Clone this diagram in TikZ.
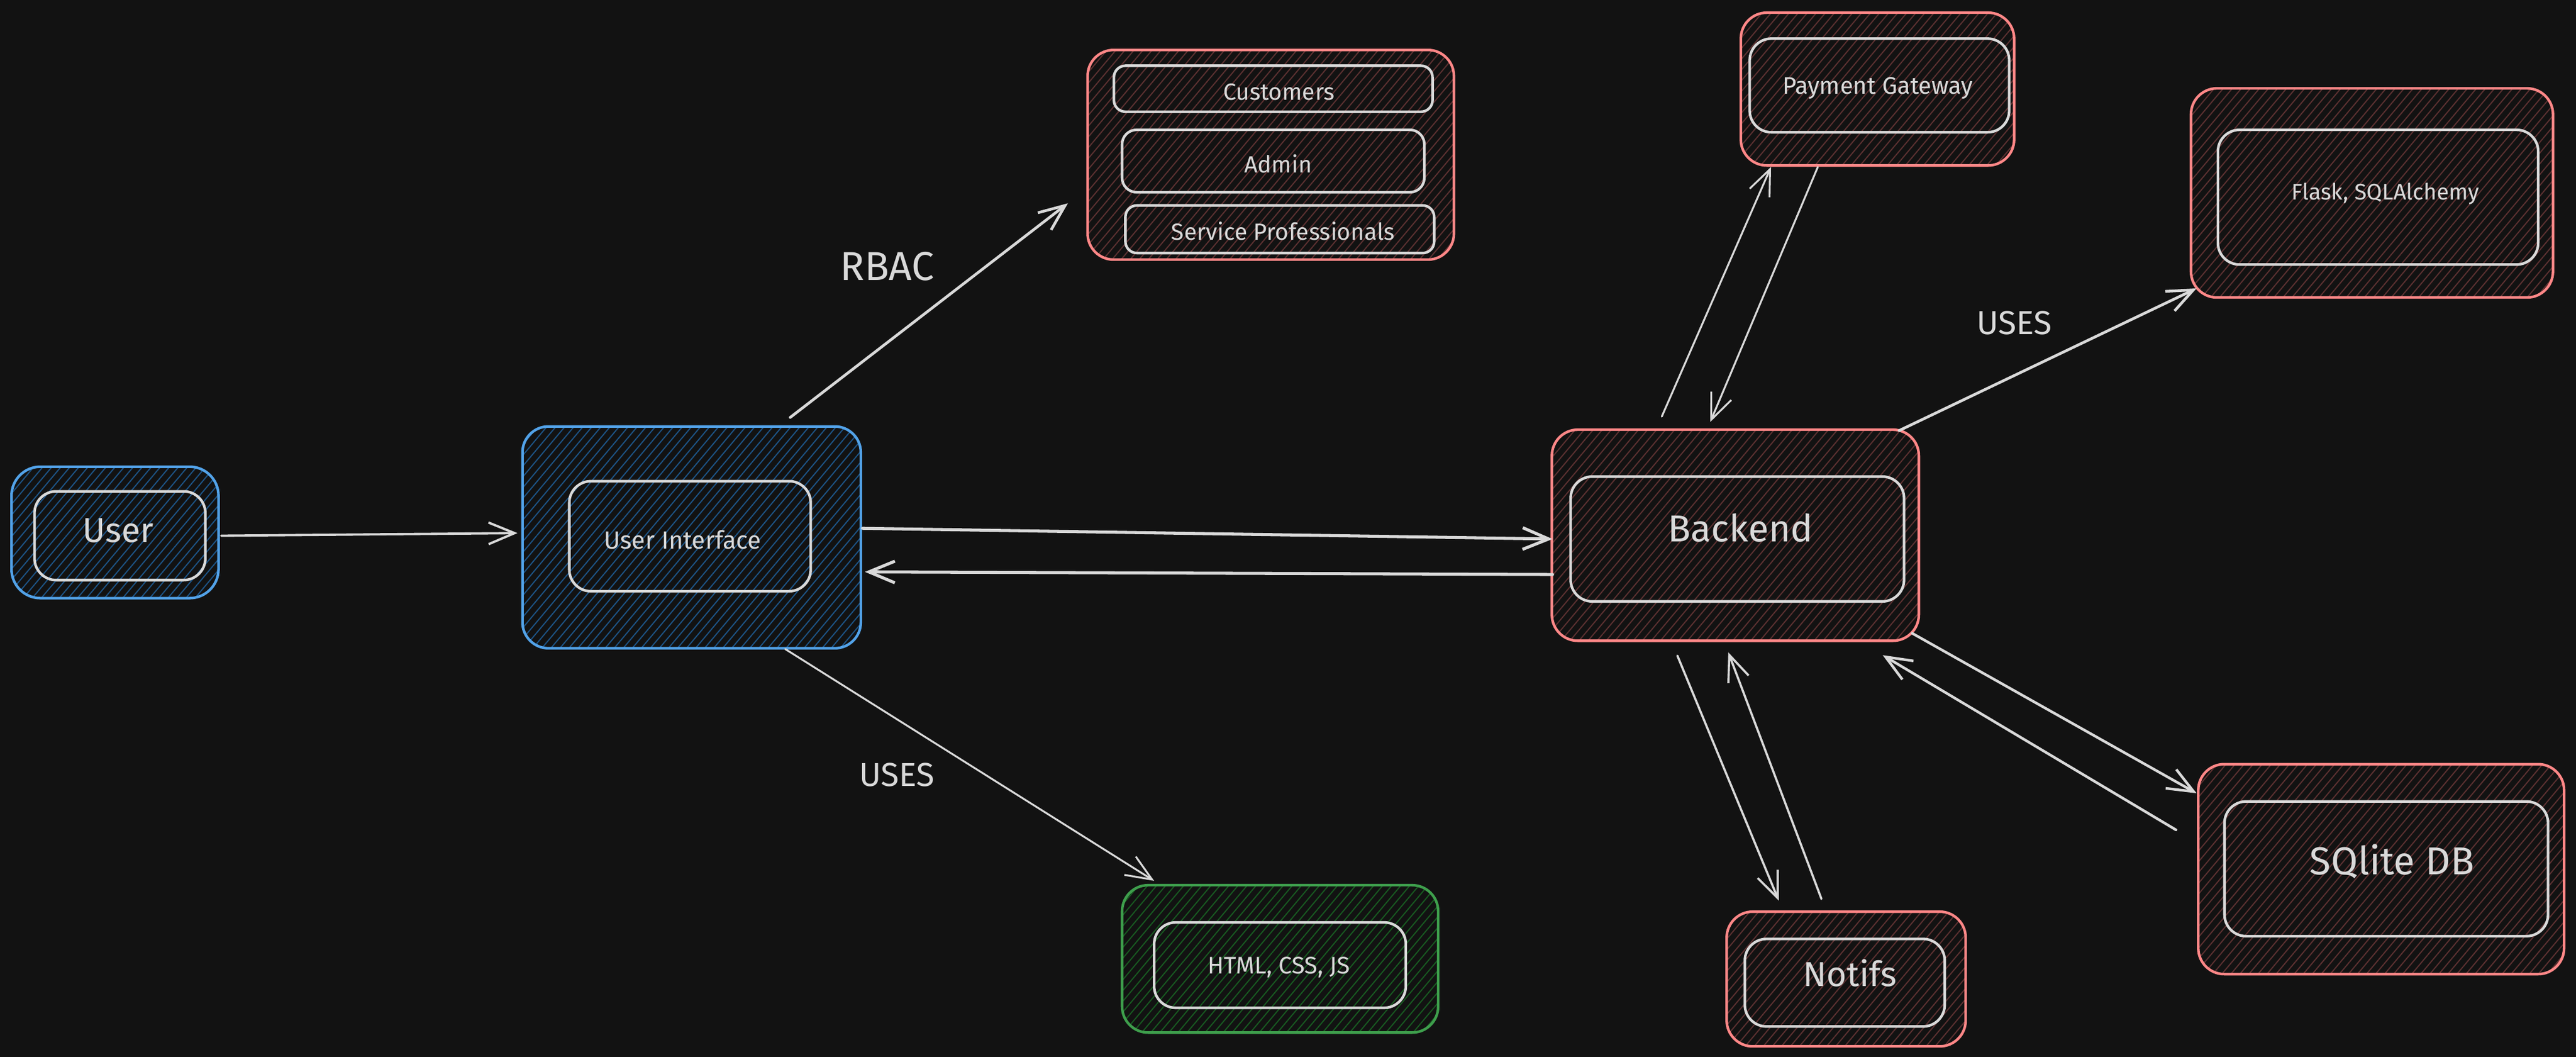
\documentclass[tikz,border=0pt]{standalone}
\usepackage{fontspec}
\setmainfont{Fira Sans}
\usetikzlibrary{arrows.meta,patterns.meta,calc}
\definecolor{bg}{HTML}{121212}
\definecolor{wht}{HTML}{D9D9D9}
\definecolor{redst}{HTML}{FF8787}
\definecolor{redh}{HTML}{5C3131}
\definecolor{bluest}{HTML}{52A2E8}
\definecolor{blueh}{HTML}{1D5486}
\definecolor{greenst}{HTML}{3E9E4C}
\definecolor{greenh}{HTML}{185A21}
\tikzset{
  obox/.style={draw, rounded corners=9pt, line width=0.9pt, inner sep=0pt, outer sep=0pt},
  redbox/.style={obox, draw=redst, pattern={Lines[angle=50,distance=2.4pt,line width=0.4pt]}, pattern color=redh},
  bluebox/.style={obox, draw=bluest, pattern={Lines[angle=50,distance=2.4pt,line width=0.4pt]}, pattern color=blueh},
  greenbox/.style={obox, draw=greenst, pattern={Lines[angle=50,distance=2.4pt,line width=0.4pt]}, pattern color=greenh},
  inbox/.style={draw=wht, line width=0.9pt, rounded corners=7.5pt, inner sep=0pt, outer sep=0pt},
  lbl/.style={text=wht, inner sep=0pt, text height=0.69em, text depth=0pt},
  conn/.style={draw=wht, line width=0.95pt, line cap=round, -{Straight Barb[length=9pt,width=7.5pt]}},
  connthin/.style={conn, line width=0.65pt},
}
\newcommand{\fsz}[1]{\fontsize{#1}{1.2\dimexpr#1pt\relax}\selectfont}
\begin{document}
\begin{tikzpicture}[x=0.02cm,y=-0.02cm]
\fill[bg] (0,0) rectangle (1568,643.2);
\useasboundingbox (0,0) rectangle (1568,643.2);

% User
\node[bluebox, rounded corners=10pt, minimum width=2.52cm, minimum height=1.6cm] (user) at (70,324) {};
\node[inbox, minimum width=2.08cm, minimum height=1.08cm] (userin) at (73,326) {};
\node[lbl, font=\fsz{12}] (tuser) at (72,324) {User};

% User Interface
\node[bluebox, minimum width=4.12cm, minimum height=2.7cm] (ui) at (421,327) {};
\node[inbox, minimum width=2.94cm, minimum height=1.34cm] (uiin) at (420,326.3) {};
\node[lbl, font=\fsz{8.6}] (tui) at (415.5,328) {User Interface};

% Roles
\node[redbox, minimum width=4.46cm, minimum height=2.552cm] (roles) at (773.5,94.2) {};
\node[inbox, rounded corners=4pt, minimum width=3.88cm, minimum height=0.56cm] (cust) at (775,54) {};
\node[inbox, rounded corners=5pt, minimum width=3.68cm, minimum height=0.76cm] (admin) at (775,98) {};
\node[inbox, rounded corners=4pt, minimum width=3.76cm, minimum height=0.58cm] (serv) at (779,139.5) {};
\node[lbl, font=\fsz{8.1}] (tcust) at (778.5,55) {Customers};
\node[lbl, font=\fsz{8.1}] (tadmin) at (778,99) {Admin};
\node[lbl, font=\fsz{8.1}] (tserv) at (781,140) {Service Professionals};

% HTML
\node[greenbox, minimum width=3.848cm, minimum height=1.794cm] (html) at (779.2,583.5) {};
\node[inbox, minimum width=3.064cm, minimum height=1.04cm] (htmlin) at (779.1,587.3) {};
\node[lbl, font=\fsz{8.3}] (thtml) at (778.5,586.5) {HTML, CSS, JS};

% Backend
\node[redbox, minimum width=4.468cm, minimum height=2.57cm] (backend) at (1056.3,325.7) {};
\node[inbox, minimum width=4.06cm, minimum height=1.52cm] (backin) at (1057.5,328) {};
\node[lbl, font=\fsz{13}] (tback) at (1059.5,323.5) {Backend};

% Payment Gateway
\node[redbox, minimum width=3.328cm, minimum height=1.86cm] (pay) at (1142.8,54.2) {};
\node[inbox, minimum width=3.16cm, minimum height=1.14cm] (payin) at (1144,52) {};
\node[lbl, font=\fsz{8.3}] (tpay) at (1143,51) {Payment Gateway};

% Flask
\node[redbox, minimum width=4.408cm, minimum height=2.546cm] (flask) at (1443.8,117.4) {};
\node[inbox, minimum width=3.9cm, minimum height=1.64cm] (flaskin) at (1447.5,120) {};
\node[lbl, font=\fsz{7.8}] (tflask) at (1452,115.5) {Flask, SQLAlchemy};

% Notifs
\node[redbox, minimum width=2.91cm, minimum height=1.64cm] (notifs) at (1123.75,595.75) {};
\node[inbox, minimum width=2.434cm, minimum height=1.066cm] (notifsin) at (1122.9,598) {};
\node[lbl, font=\fsz{12}] (tnotifs) at (1126,594) {Notifs};

% SQLite
\node[redbox, minimum width=4.454cm, minimum height=2.556cm] (sqlite) at (1449.4,528.9) {};
\node[inbox, minimum width=3.94cm, minimum height=1.64cm] (sqlitein) at (1452.5,528.7) {};
\node[lbl, font=\fsz{13.5}] (tsqlite) at (1456,526) {SQlite DB};

% Edge labels
\node[lbl, font=\fsz{14}] (rbac) at (540,164.5) {RBAC};
\node[lbl, font=\fsz{11.5}] (uses1) at (546,472.4) {USES};
\node[lbl, font=\fsz{11.5}] (uses2) at (1226,197.5) {USES};

% Connectors
\draw[conn, line width=0.8pt] ($(user.east)+(1.7,2)$) -- ($(ui.west)+(-3,-2.6)$);
\draw[conn, line width=1.05pt] ($(ui.east)+(1,-5.5)$) -- ($(backend.west)+(0.4,2.3)$);
\draw[conn, line width=1.05pt] ($(backend.west)+(0.4,23.9)$) -- ($(ui.east)+(2.5,21)$);
\draw[conn] ($(ui.north)+(60,-5.5)$) -- ($(roles.west)+(-12,29.5)$);
\draw[connthin] ($(ui.south)+(57,0.5)$) -- ($(html.north)+(-76.7,-2.65)$);
\draw[connthin] ($(backend.north)+(-44.8,-7.95)$) -- ($(pay.south)+(-64.8,0.9)$);
\draw[connthin] ($(pay.south)+(-36.3,0.9)$) -- ($(backend.north)+(-15.3,-4.65)$);
\draw[conn] ($(backend.north east)+(-12,0.55)$) -- ($(flask.south west)+(3.4,-5.55)$);
\draw[connthin, line width=0.75pt] ($(backend.south)+(-35.3,9.05)$) -- ($(notifs.north)+(-41.05,-6.75)$);
\draw[connthin, line width=0.75pt] ($(notifs.north)+(-15.05,-7.75)$) -- ($(backend.south)+(-4.3,7.05)$);
\draw[conn, line width=0.9pt] ($(backend.south east)+(-4,-4.55)$) -- ($(sqlite.north west)+(-1.05,17.7)$);
\draw[conn, line width=0.9pt] ($(sqlite.north west)+(-13.55,40)$) -- ($(backend.south east)+(-22,8.75)$);
\end{tikzpicture}
\end{document}
